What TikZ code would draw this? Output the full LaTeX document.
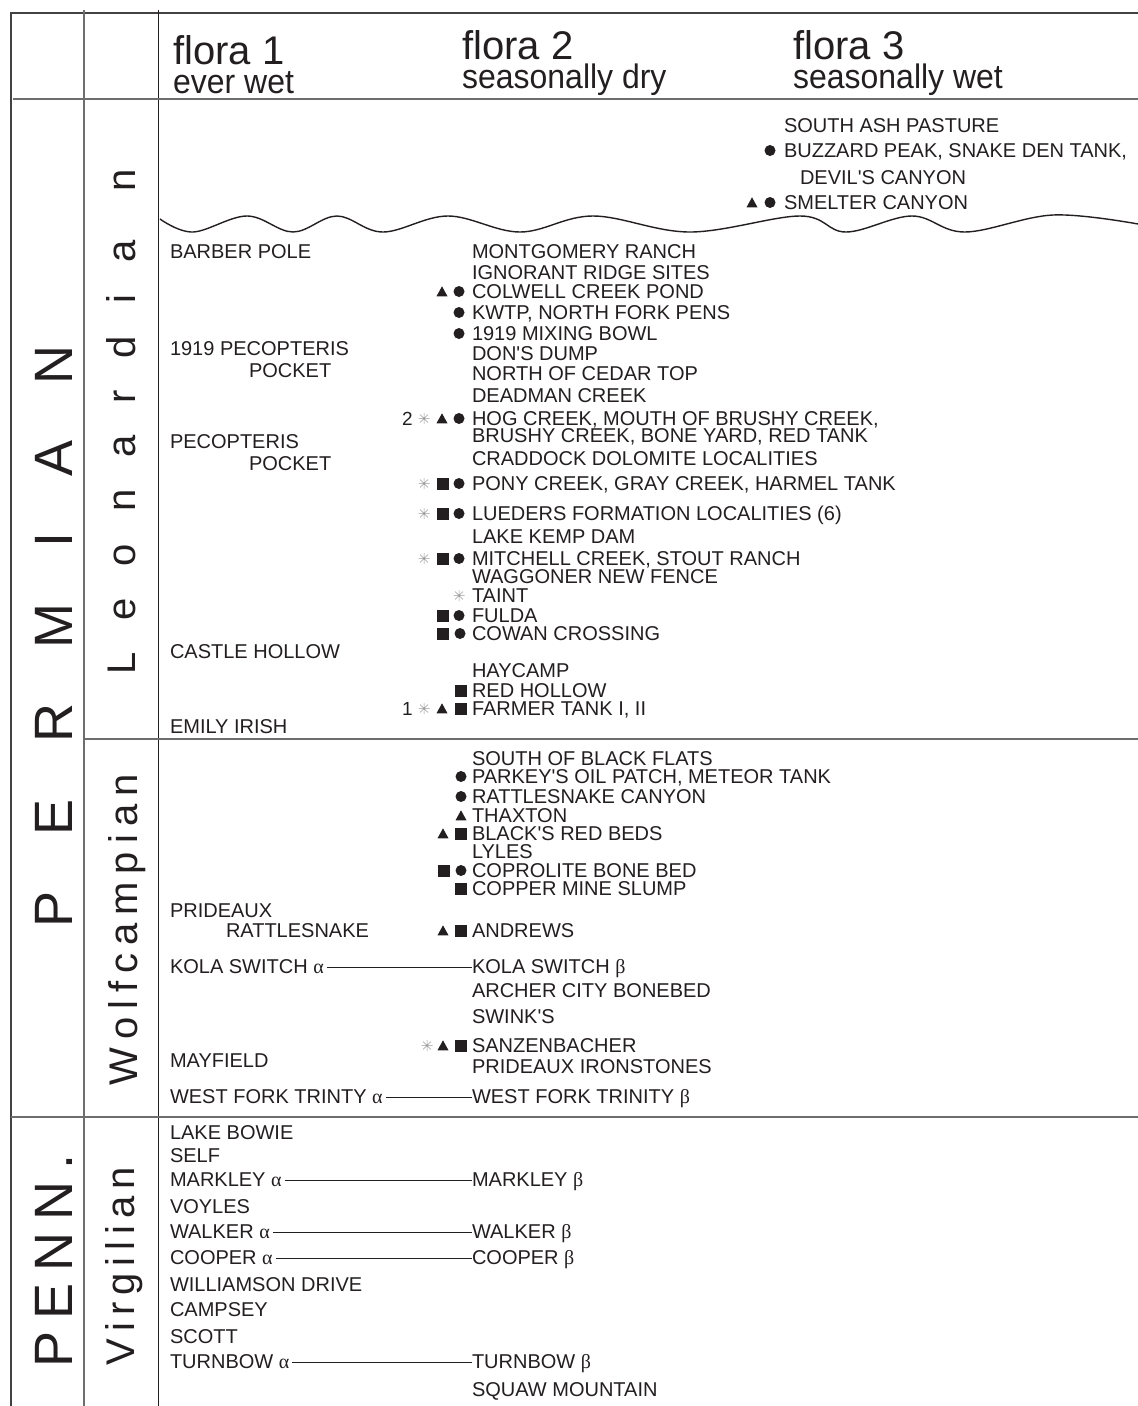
\documentclass[tikz,border=0pt]{standalone}
\usepackage{fontspec}
\setmainfont{Liberation Sans}
\newfontfamily\labf{Liberation Sans}
\newfontfamily\grk{Liberation Serif}
\newfontfamily\condf[FakeStretch=0.94]{Liberation Sans}
\definecolor{ink}{HTML}{231F20}
\definecolor{rulegray}{HTML}{6E6E6E}
\definecolor{astgray}{HTML}{9B9B9B}
\newcommand\subf{\condf\fontsize{34}{29}\selectfont}
\tikzset{
  lbl/.style={anchor=base west, inner sep=0pt, outer sep=0pt, text=ink, font=\labf\fontsize{20}{20}\selectfont, text height=11pt, text depth=0pt},
  num/.style={lbl, font=\labf\fontsize{19}{19}\selectfont},
  head/.style={anchor=base west, inner sep=0pt, align=left, text=ink, font=\labf\fontsize{40}{29}\selectfont},
  vbig/.style={anchor=base, rotate=90, inner sep=0pt, text=ink, font=\labf\fontsize{54}{54}\selectfont},
  vmid/.style={anchor=base, rotate=90, inner sep=0pt, text=ink, font=\labf\fontsize{40}{40}\selectfont},
  frame/.style={draw=ink!85, line width=2pt},
  rulel/.style={draw=rulegray, line width=1.2pt},
  rulec/.style={draw=ink, line width=1pt},
  conn/.style={draw=ink, line width=0.9pt, shorten <=3pt},
  wave/.style={draw=ink, line width=1.4pt},
  dotp/.pic={\fill[ink] (0,0) circle (5.5pt);},
  sqp/.pic={\fill[ink] (-6,-6) rectangle (6,6);},
  trip/.pic={\fill[ink] (-5.5,4.8) -- (5.5,4.8) -- (0,-5.2) -- cycle;},
  astp/.pic={\draw[astgray, line width=0.5pt] (-5.5,0) -- (5.5,0) (0,-5.5) -- (0,5.5) (-3.9,-3.9) -- (3.9,3.9) (-3.9,3.9) -- (3.9,-3.9);},
}
\newcommand\mD[2]{\pic at (#1,{#2-6.5}) {dotp};}
\newcommand\mS[2]{\pic at (#1,{#2-6.5}) {sqp};}
\newcommand\mT[2]{\pic at (#1,{#2-6.5}) {trip};}
\newcommand\mA[2]{\pic at (#1,{#2-6.5}) {astp};}
\begin{document}
\begin{tikzpicture}[x=1pt,y=-1pt]
\fill[white] (0,0) rectangle (1138,1406);
\useasboundingbox (0,0) rectangle (1138,1406);
% frame and rules
\draw[frame] (11,1406) -- (11,13) -- (1138,13);
\draw[rulel] (84,10) -- (84,1406);
\draw[rulec] (158,10) -- (158,1406);
\draw[rulel] (13,99) -- (1138,99);
\draw[rulel] (84,739) -- (1138,739);
\draw[rulel] (11,1117) -- (1138,1117);
% unconformity
\draw[wave] plot[smooth, tension=0.6] coordinates {(160,219) (193,232) (247,216) (293,232) (337,216) (383,232) (448,216) (520,232) (593,216) (690,232) (800,216) (846,232) (912,216) (965,232) (1053,215) (1138,224)};
% headers
\node[head] (f1) at (173,93) {flora 1\\{\subf ever wet}};
\node[head] (f2) at (462,88) {flora 2\\{\subf seasonally dry}};
\node[head] (f3) at (793,88) {flora 3\\{\subf seasonally wet}};
% vertical labels
\node[vbig] (permian) at (72,636) {P\hspace{56pt}E\hspace{56pt}R\hspace{56pt}M\hspace{56pt}I\hspace{56pt}A\hspace{56pt}N};
\node[vbig] (penn) at (72,1261) {P\hspace{12pt}E\hspace{12pt}N\hspace{12pt}N\hspace{12pt}.};
\node[vmid] (leon) at (135,422) {L\hspace{32pt}e\hspace{32pt}o\hspace{32pt}n\hspace{32pt}a\hspace{32pt}r\hspace{32pt}d\hspace{32pt}i\hspace{32pt}a\hspace{49pt}n};
\node[vmid] (wolf) at (137,930) {W\hspace{8pt}o\hspace{8pt}l\hspace{8pt}f\hspace{8pt}c\hspace{8pt}a\hspace{8pt}m\hspace{8pt}p\hspace{8pt}i\hspace{8pt}a\hspace{8pt}n};
\node[vmid] (virg) at (134,1266) {V\hspace{7pt}i\hspace{7pt}r\hspace{7pt}g\hspace{7pt}i\hspace{7pt}l\hspace{7pt}i\hspace{7pt}a\hspace{7pt}n};
% flora 3 (above unconformity)
\node[lbl] (sap) at (784,132) {SOUTH ASH PASTURE};
\node[lbl] (bzp) at (784,157) {BUZZARD PEAK, SNAKE DEN TANK,};
\mD{770}{157}
\node[lbl] (dvc) at (800,184) {DEVIL'S CANYON};
\node[lbl] (smc) at (784,209) {SMELTER CANYON};
\mT{752}{209}\mD{770}{209}
% Leonardian, flora 1
\node[lbl] (brp) at (170,258) {BARBER POLE};
\node[lbl] (pec1) at (170,355) {1919 PECOPTERIS};
\node[lbl] (pec1b) at (249,377) {POCKET};
\node[lbl] (pec2) at (170,448) {PECOPTERIS};
\node[lbl] (pec2b) at (249,470) {POCKET};
\node[lbl] (csh) at (170,658) {CASTLE HOLLOW};
\node[lbl] (emi) at (170,733) {EMILY IRISH};
% Leonardian, flora 2
\node[lbl] (mon) at (472,258) {MONTGOMERY RANCH};
\node[lbl] (ign) at (472,279) {IGNORANT RIDGE SITES};
\node[lbl] (col) at (472,298) {COLWELL CREEK POND};
\mT{442}{298}\mD{459}{298}
\node[lbl] (kwt) at (472,319) {KWTP, NORTH FORK PENS};
\mD{459}{319}
\node[lbl] (mix) at (472,340) {1919 MIXING BOWL};
\mD{459}{340}
\node[lbl] (don) at (472,360) {DON'S DUMP};
\node[lbl] (ced) at (472,380) {NORTH OF CEDAR TOP};
\node[lbl] (ddm) at (472,402) {DEADMAN CREEK};
\node[lbl] (hog) at (472,425) {HOG CREEK, MOUTH OF BRUSHY CREEK,};
\node[num] (n2) at (402,425) {2};
\mA{424}{425}\mT{442}{425}\mD{459}{425}
\node[lbl] (bru) at (472,442) {BRUSHY CREEK, BONE YARD, RED TANK};
\node[lbl] (cra) at (472,465) {CRADDOCK DOLOMITE LOCALITIES};
\node[lbl] (pon) at (472,490) {PONY CREEK, GRAY CREEK, HARMEL TANK};
\mA{424}{490}\mS{443}{490}\mD{459}{490}
\node[lbl] (lue) at (472,520) {LUEDERS FORMATION LOCALITIES (6)};
\mA{424}{520}\mS{443}{520}\mD{459}{520}
\node[lbl] (lkd) at (472,543) {LAKE KEMP DAM};
\node[lbl] (mit) at (472,565) {MITCHELL CREEK, STOUT RANCH};
\mA{424}{565}\mS{443}{565}\mD{459}{565}
\node[lbl] (wag) at (472,583) {WAGGONER NEW FENCE};
\node[lbl] (tai) at (472,602) {TAINT};
\mA{459}{602}
\node[lbl] (ful) at (472,622) {FULDA};
\mS{443}{622}\mD{459}{622}
\node[lbl] (cow) at (472,640) {COWAN CROSSING};
\mS{443}{640}\mD{460}{640}
\node[lbl] (hay) at (472,677) {HAYCAMP};
\node[lbl] (rdh) at (472,697) {RED HOLLOW};
\mS{461}{697}
\node[lbl] (far) at (472,715) {FARMER TANK I, II};
\node[num] (n1) at (402,715) {1};
\mA{424}{715}\mT{442}{715}\mS{461}{715}
% Wolfcampian, flora 1
\node[lbl] (pri) at (170,917) {PRIDEAUX};
\node[lbl] (prib) at (226,937) {RATTLESNAKE};
\node[lbl] (kolaA) at (170,973) {KOLA SWITCH {\grk α}};
\node[lbl] (may) at (170,1067) {MAYFIELD};
\node[lbl] (wftA) at (170,1103) {WEST FORK TRINTY {\grk α}};
% Wolfcampian, flora 2
\node[lbl] (sbf) at (472,765) {SOUTH OF BLACK FLATS};
\node[lbl] (par) at (472,783) {PARKEY'S OIL PATCH, METEOR TANK};
\mD{461}{783}
\node[lbl] (rat) at (472,803) {RATTLESNAKE CANYON};
\mD{461}{803}
\node[lbl] (tha) at (472,822) {THAXTON};
\mT{461}{822}
\node[lbl] (blk) at (472,840) {BLACK'S RED BEDS};
\mT{443}{840}\mS{461}{840}
\node[lbl] (lyl) at (472,858) {LYLES};
\node[lbl] (cop) at (472,877) {COPROLITE BONE BED};
\mS{444}{877}\mD{461}{877}
\node[lbl] (cms) at (472,895) {COPPER MINE SLUMP};
\mS{461}{895}
\node[lbl] (and) at (472,937) {ANDREWS};
\mT{443}{937}\mS{461}{937}
\node[lbl] (kolaB) at (472,973) {KOLA SWITCH {\grk β}};
\node[lbl] (arc) at (472,997) {ARCHER CITY BONEBED};
\node[lbl] (swi) at (472,1023) {SWINK'S};
\node[lbl] (san) at (472,1052) {SANZENBACHER};
\mA{427}{1052}\mT{443}{1052}\mS{461}{1052}
\node[lbl] (pii) at (472,1073) {PRIDEAUX IRONSTONES};
\node[lbl] (wftB) at (472,1103) {WEST FORK TRINITY {\grk β}};
% Virgilian
\node[lbl] (lkb) at (170,1139) {LAKE BOWIE};
\node[lbl] (slf) at (170,1162) {SELF};
\node[lbl] (mrkA) at (170,1186) {MARKLEY {\grk α}};
\node[lbl] (voy) at (170,1213) {VOYLES};
\node[lbl] (wlkA) at (170,1238) {WALKER {\grk α}};
\node[lbl] (cooA) at (170,1264) {COOPER {\grk α}};
\node[lbl] (wil) at (170,1291) {WILLIAMSON DRIVE};
\node[lbl] (cam) at (170,1316) {CAMPSEY};
\node[lbl] (sco) at (170,1343) {SCOTT};
\node[lbl] (trnA) at (170,1368) {TURNBOW {\grk α}};
\node[lbl] (mrkB) at (472,1186) {MARKLEY {\grk β}};
\node[lbl] (wlkB) at (472,1238) {WALKER {\grk β}};
\node[lbl] (cooB) at (472,1264) {COOPER {\grk β}};
\node[lbl] (trnB) at (472,1368) {TURNBOW {\grk β}};
\node[lbl] (squ) at (472,1396) {SQUAW MOUNTAIN};
% correlation connectors
\draw[conn] (kolaA.east) -- (kolaB.west);
\draw[conn] (wftA.east) -- (wftB.west);
\draw[conn] (mrkA.east) -- (mrkB.west);
\draw[conn] (wlkA.east) -- (wlkB.west);
\draw[conn] (cooA.east) -- (cooB.west);
\draw[conn] (trnA.east) -- (trnB.west);
\end{tikzpicture}
\end{document}
